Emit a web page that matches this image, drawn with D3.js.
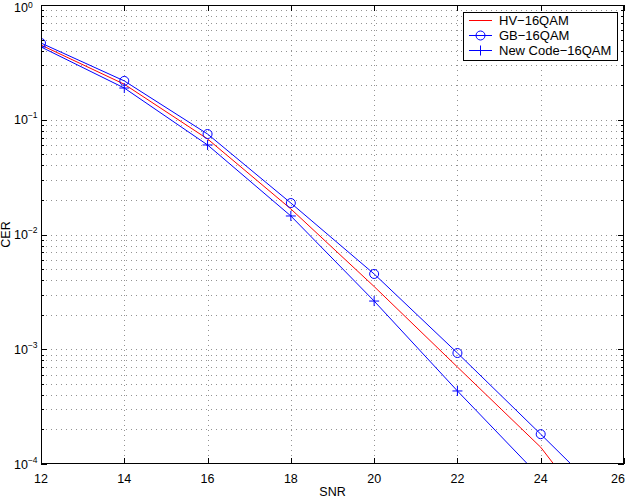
<!DOCTYPE html>
<html><head><meta charset="utf-8">
<script src="https://cdn.jsdelivr.net/npm/d3@7"></script>
<style>
body{margin:0;background:#fff;}
text{font-family:"Liberation Sans",Arial,Helvetica,sans-serif;}
</style></head>
<body><svg id="c" width="630" height="499"></svg>
<script>
const snr = [12, 14, 16, 18, 20, 22, 24, 26];
const hv  = [0.448, 0.204, 0.068, 0.0167, 0.00352, 0.00070, 0.00014, 0.000016];
const gb  = [0.466, 0.218, 0.0751, 0.0188, 0.00453, 0.000927, 0.000182, 0.000035];
const nc  = [0.431, 0.189, 0.0603, 0.0145, 0.00263, 0.000433, 0.000076, 0.000013];
const xTicks = [12, 14, 16, 18, 20, 22, 24, 26];
const yExps = [0, -1, -2, -3, -4];
const seriesNames = ["HV\u221216QAM", "GB\u221216QAM", "New Code\u221216QAM"];

const svg = d3.select("#c");
const L = 41, R = 624, T = 5, B = 464;
const x = d3.scaleLinear().domain([12, 26]).range([L, R]);
const y = d3.scaleLog().domain([1e-4, 1]).range([B, T]);

svg.append("rect").attr("x",0).attr("y",0).attr("width",630).attr("height",499).attr("fill","#fff");
svg.append("defs").append("clipPath").attr("id","clip").append("rect")
  .attr("x",L).attr("y",T).attr("width",R-L).attr("height",B-T);

// grid
const minor = [];
for (let e = -4; e < 0; e++) for (let m = 1; m <= 9; m++) minor.push(m * Math.pow(10, e));
minor.push(1);
const grid = svg.append("g").attr("stroke","#777").attr("stroke-width",0.8).attr("stroke-dasharray","1,4");
grid.selectAll(".gy").data(minor.filter(v=>v>1e-4 && v<1)).enter().append("line")
  .attr("x1",L).attr("x2",R).attr("y1",d=>Math.round(y(d))+0.5).attr("y2",d=>Math.round(y(d))+0.5);
grid.selectAll(".gx").data(xTicks.filter(v=>v>12&&v<26)).enter().append("line")
  .attr("y1",T).attr("y2",B).attr("x1",d=>Math.round(x(d))+0.5).attr("x2",d=>Math.round(x(d))+0.5);

// ticks inside
const tk = svg.append("g").attr("stroke","#000").attr("stroke-width",1);
xTicks.forEach(v=>{
  const px = Math.round(x(v))+0.5;
  tk.append("line").attr("x1",px).attr("x2",px).attr("y1",B).attr("y2",B-6);
  tk.append("line").attr("x1",px).attr("x2",px).attr("y1",T).attr("y2",T+6);
});
minor.forEach(v=>{
  const py = Math.round(y(v))+0.5;
  const major = Math.abs(Math.log10(v) - Math.round(Math.log10(v))) < 1e-9;
  const len = major ? 6 : 3;
  tk.append("line").attr("x1",L).attr("x2",L+len).attr("y1",py).attr("y2",py);
  tk.append("line").attr("x1",R).attr("x2",R-len).attr("y1",py).attr("y2",py);
});

// lines
const line = d3.line().x((d,i)=>x(snr[i])).y(d=>y(d));
const plot = svg.append("g").attr("clip-path","url(#clip)");
plot.append("path").datum(hv).attr("d",line).attr("fill","none").attr("stroke","#ff0000").attr("stroke-width",1);
plot.append("path").datum(gb).attr("d",line).attr("fill","none").attr("stroke","#0000ff").attr("stroke-width",1);
plot.append("path").datum(nc).attr("d",line).attr("fill","none").attr("stroke","#0000ff").attr("stroke-width",1);
plot.selectAll(".mo").data(gb).enter().append("circle")
  .attr("cx",(d,i)=>x(snr[i])).attr("cy",d=>y(d)).attr("r",4.5)
  .attr("fill","none").attr("stroke","#0000ff").attr("stroke-width",1);
const plus = plot.selectAll(".mp").data(nc).enter().append("g")
  .attr("transform",(d,i)=>`translate(${x(snr[i])},${y(d)})`);
plus.append("line").attr("x1",-5).attr("x2",5).attr("y1",0).attr("y2",0).attr("stroke","#0000ff");
plus.append("line").attr("y1",-5).attr("y2",5).attr("x1",0).attr("x2",0).attr("stroke","#0000ff");

// box
svg.append("rect").attr("x",L+0.5).attr("y",T+0.5).attr("width",R-L-1).attr("height",B-T-1)
  .attr("fill","none").attr("stroke","#000").attr("stroke-width",1);

// tick labels
svg.selectAll(".xl").data(xTicks).enter().append("text")
  .attr("x",d=>Math.min(x(d), 618)).attr("y",483).attr("text-anchor","middle").attr("font-size",12.5).text(d=>d);
yExps.forEach(e=>{
  const t = svg.append("text").attr("x",14).attr("y",y(Math.pow(10,e))+(e===0?6.5:4.5)).attr("font-size",12.5);
  t.append("tspan").text("10");
  t.append("tspan").attr("dy",e===0?-3.5:-6).attr("font-size",8.5).text(e===0?"0":"\u2212"+Math.abs(e));
});
svg.append("text").attr("x",(L+R)/2).attr("y",496).attr("text-anchor","middle").attr("font-size",12.5).text("SNR");
svg.append("text").attr("transform",`translate(10,${(T+B)/2}) rotate(-90)`).attr("text-anchor","middle").attr("font-size",12.5).text("CER");

// legend
const lg = svg.append("g");
lg.append("rect").attr("x",463.5).attr("y",12.5).attr("width",154).attr("height",48)
  .attr("fill","#fff").attr("stroke","#000").attr("stroke-width",1);
const cols = ["#ff0000","#0000ff","#0000ff"];
seriesNames.forEach((n,i)=>{
  const cy = 20.5 + i*15;
  lg.append("line").attr("x1",469).attr("x2",492).attr("y1",cy).attr("y2",cy).attr("stroke",cols[i]);
  if (i===1) lg.append("circle").attr("cx",480.5).attr("cy",cy).attr("r",4.5).attr("fill","none").attr("stroke",cols[i]);
  if (i===2) lg.append("line").attr("x1",480.5).attr("x2",480.5).attr("y1",cy-5).attr("y2",cy+5).attr("stroke",cols[i]);
  lg.append("text").attr("x",499).attr("y",cy+4.5).attr("font-size",13).text(n);
});
</script></body></html>
